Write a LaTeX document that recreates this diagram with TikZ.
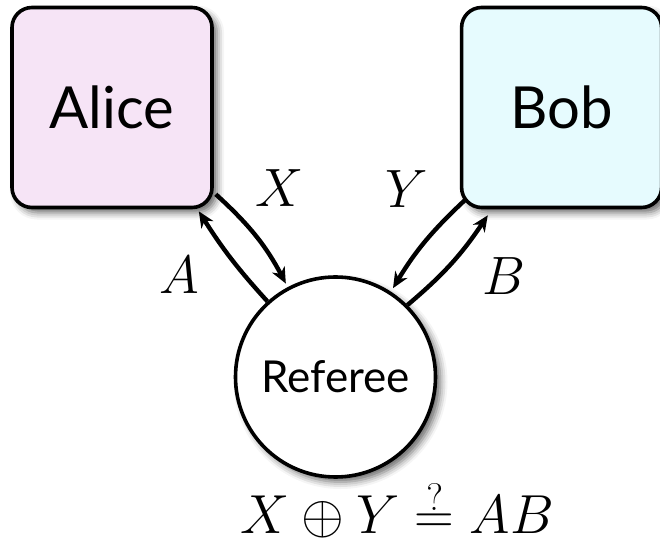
\documentclass[tikz,border=0pt]{standalone}
\usepackage{fix-cm}
\usepackage{fontspec}
\setsansfont{Lato}
\usetikzlibrary{arrows.meta,positioning,calc,shadows.blur}

\definecolor{alicepink}{RGB}{246,228,246}
\definecolor{bobcyan}{RGB}{230,251,254}

\begin{document}
\begin{tikzpicture}[x=0.5pt, y=-0.5pt,
  soft/.style={blur shadow={shadow xshift=2.5pt, shadow yshift=-2.5pt, shadow blur radius=3.5pt, shadow opacity=60}},
  player/.style={draw, line width=1.8pt, rounded corners=10pt, minimum width=100pt, minimum height=100pt,
    font=\sffamily\fontsize{29}{34}\selectfont, soft},
  judge/.style={draw, circle, line width=1.8pt, fill=white, minimum size=100pt, inner sep=0pt,
    font=\sffamily\fontsize{22}{26}\selectfont, soft},
  msg/.style={-{Stealth[length=8pt,width=7pt,inset=2.5pt]}, line width=2.2pt},
  lbl/.style={inner sep=0pt, font=\fontsize{27}{32}\selectfont}
]
\useasboundingbox (0,0) rectangle (660,551);
\node[player, fill=alicepink] (alice) at (112,107.5) {Alice};
\node[player, fill=bobcyan, right=123pt of alice] (bob) {Bob};
\node[judge] (ref) at (335.5,377) {Referee};
% questions and answers
\draw[msg, shorten >=2pt] ($(alice.south east)+(2,-15)$) to[bend left=10] (ref.118);
\draw[msg] (ref.132) to[bend left=5] ($(alice.south east)+(-15,2)$);
\draw[msg, shorten >=2pt] ($(bob.south west)+(6,-10)$) to[bend right=8] (ref.57);
\draw[msg] (ref.45) to[bend right=8] ($(bob.south west)+(28,6)$);
\node[lbl] (x) at (280,188) {$X$};
\node[lbl] (y) at (407,189) {$Y$};
\node[lbl] (a) at (179,275) {$A$};
\node[lbl] (b) at (504,276) {$B$};
\node[lbl, font=\fontsize{27.5}{33}\selectfont] (win) at (397,510) {$X\oplus Y\stackrel{?}{=}AB$};
\end{tikzpicture}
\end{document}
